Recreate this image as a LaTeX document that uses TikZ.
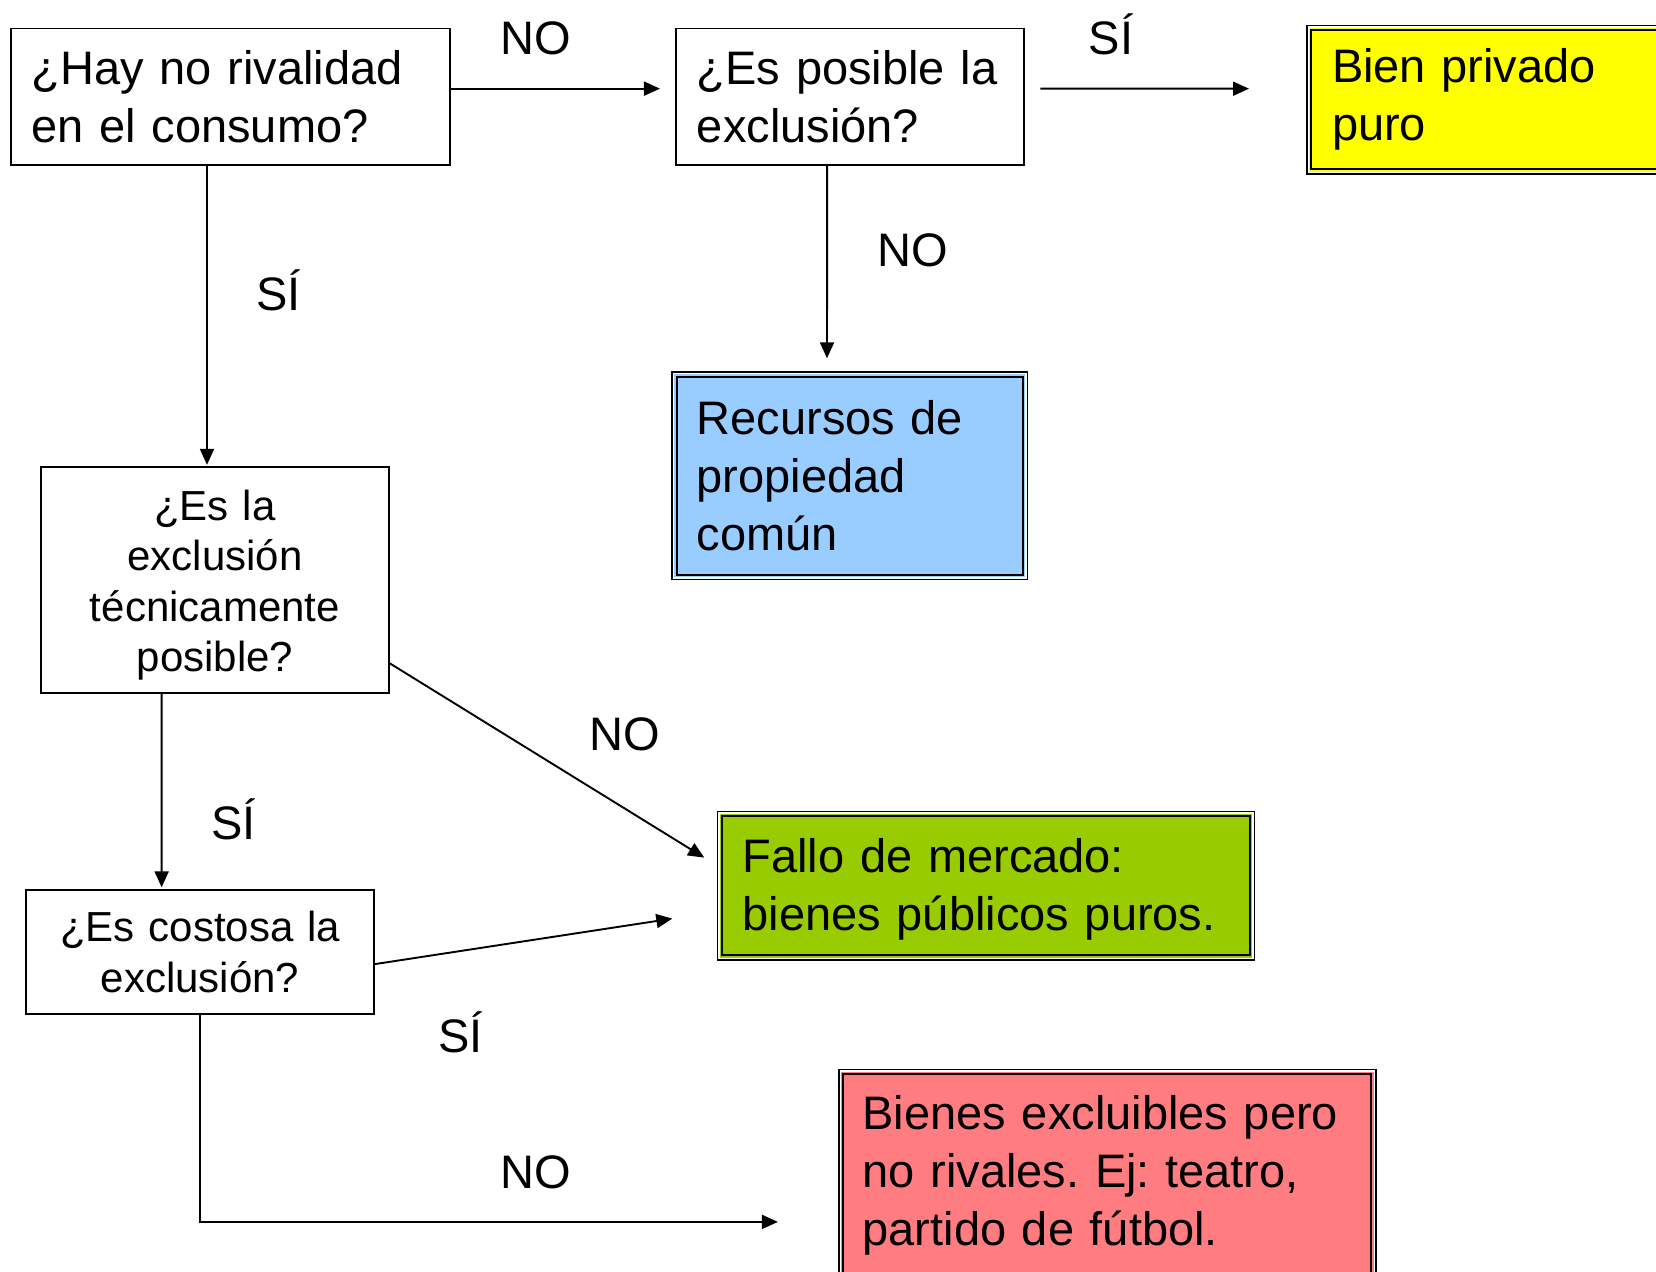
\documentclass[tikz,border=0pt]{standalone}
\usepackage{fontspec}
\setmainfont{Liberation Sans}
\frenchspacing
\usetikzlibrary{arrows.meta}
\definecolor{cyellow}{HTML}{FFFF00}
\definecolor{cblue}{HTML}{99CCFF}
\definecolor{cgreen}{HTML}{99CC00}
\definecolor{cred}{HTML}{FF7C80}
\newcommand{\bigtxt}{\fontsize{47}{58}\selectfont\frenchspacing}
\newcommand{\smalltxt}{\fontsize{42}{50.5}\selectfont\frenchspacing}
\tikzset{
  qbox/.style={draw, line width=1.9pt, fill=white, font=\bigtxt, align=left, inner ysep=0pt},
  cqbox/.style={draw, line width=1.9pt, fill=white, font=\smalltxt, align=center, inner ysep=0pt},
  resbox/.style={draw, line width=3pt, font=\bigtxt, align=left, inner ysep=0pt},
  arr/.style={line width=1.9pt, -{Triangle[length=16pt,width=14pt]}},
  lbl/.style={font=\bigtxt, anchor=base, inner sep=0pt},
  innerw/.style={draw=white, line width=1.5pt},
  innerb/.style={draw=black, line width=2pt}
}
\newcommand{\dblframe}[1]{%
  \draw[innerw] ([shift={(2.25pt,-2.25pt)}]#1.north west) rectangle ([shift={(-2.25pt,2.25pt)}]#1.south east);
  \draw[innerb] ([shift={(5.3pt,-5.3pt)}]#1.north west) rectangle ([shift={(-5.3pt,5.3pt)}]#1.south east);}
\begin{document}
\begin{tikzpicture}[x=1pt,y=1pt]
\useasboundingbox (0,0) rectangle (1656,-1271);
\clip (0,0) rectangle (1656,-1271);

% question boxes
\node[qbox, minimum width=439.3pt, minimum height=136.3pt, text width=397.3pt, inner xsep=21pt]
  (A) at (230.25,-96.65) {¿Hay no rivalidad\\en el consumo?};
\node[qbox, minimum width=348.5pt, minimum height=136.3pt, text width=306.5pt, inner xsep=21pt]
  (B) at (850.15,-96.65) {¿Es posible la\\exclusión?};
\node[cqbox, minimum width=347.4pt, minimum height=226pt, text width=320pt]
  (E) at (214.9,-579.8) {\rule{0pt}{41pt}¿Es la\\exclusión\\técnicamente\\posible?};
\node[cqbox, minimum width=347.5pt, minimum height=123.6pt, text width=320pt]
  (G) at (200.15,-952.1) {¿Es costosa la\\exclusión?};

% result boxes
\node[resbox, fill=cyellow, minimum width=392.5pt, minimum height=146.8pt, text width=343.5pt, inner xsep=24.5pt]
  (C) at (1503.75,-99.8) {Bien privado\\puro};
\node[resbox, fill=cblue, minimum width=353.8pt, minimum height=206pt, text width=305.8pt, inner xsep=24pt]
  (D) at (849.6,-475.8) {Recursos de\\propiedad\\común};
\node[resbox, fill=cgreen, minimum width=535.4pt, minimum height=146.8pt, text width=486.4pt, inner xsep=24.5pt]
  (F) at (985.9,-885.6) {\rule{0pt}{41pt}Fallo de mercado:\\bienes públicos puros.};
\node[resbox, fill=cred, anchor=north, minimum width=535.4pt, text width=489.4pt, inner xsep=23pt, inner ysep=25pt]
  (H) at (1107.3,-1068.8) {Bienes excluibles pero\\no rivales. Ej: teatro,\\partido de fútbol.};
\dblframe{C}
\dblframe{D}
\dblframe{F}
\dblframe{H}

% connectors
\draw[arr] ([yshift=8pt]A.east) -- ([xshift=-15pt,yshift=8pt]B.west);
\draw[arr] ([xshift=15pt,yshift=8pt]B.east) -- ([xshift=-57pt,yshift=11.1pt]C.west);
\draw[arr] ([xshift=-23pt]B.south) -- ([xshift=-22.6pt,yshift=13pt]D.north);
\draw[arr] ([xshift=-23.25pt]A.south) -- ([xshift=-7.9pt,yshift=1pt]E.north);
\draw[arr] ([xshift=-53.3pt]E.south) -- ([xshift=-38.5pt,yshift=2pt]G.north);
\draw[arr] ([yshift=-83.4pt]E.east) -- ([xshift=-12.5pt,yshift=28pt]F.west);
\draw[arr] ([yshift=-12pt]G.east) -- ([xshift=-44.4pt,yshift=-33pt]F.west);
\draw[arr] (G.south) |- ([xshift=-60.2pt,yshift=-153.1pt]H.north west);

% labels
\node[lbl] (l1) at (535.4,-55) {NO};
\node[lbl] (l2) at (1111,-55) {SÍ};
\node[lbl] (l3) at (912.5,-266) {NO};
\node[lbl] (l4) at (278.8,-310.5) {SÍ};
\node[lbl] (l5) at (625.2,-750) {NO};
\node[lbl] (l6) at (233.4,-839.8) {SÍ};
\node[lbl] (l7) at (460.5,-1052.8) {SÍ};
\node[lbl] (l8) at (535.4,-1188) {NO};
\end{tikzpicture}
\end{document}
